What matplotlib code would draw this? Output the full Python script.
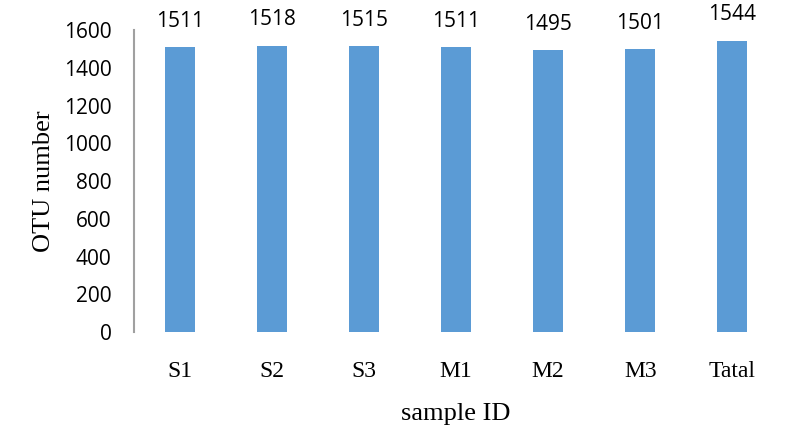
import matplotlib.pyplot as plt
import numpy as np

samples = ["S1", "S2", "S3", "M1", "M2", "M3", "Tatal"]
otu = [1511, 1518, 1515, 1511, 1495, 1501, 1544]
yticks = [0, 200, 400, 600, 800, 1000, 1200, 1400, 1600]

fig = plt.figure(figsize=(7.91, 4.37), dpi=100)
ax = fig.add_axes([0.169, 0.240, 0.815, 0.691])

x = np.arange(len(samples))
bars = ax.bar(x, otu, width=0.33, color="#5B9BD5")

for xi, v in zip(x, otu):
    ax.annotate(str(v), (xi, v), xytext=(0, 11), textcoords="offset points",
                ha="center", va="bottom", fontsize=15, family="Open Sans")

ax.set_xlim(-0.5, len(samples) - 0.5)
ax.set_ylim(0, 1600)
ax.set_yticks(yticks)
ax.set_yticklabels([str(t) for t in yticks], fontsize=15, family="Open Sans")
ax.set_xticks(x)
ax.set_xticklabels(samples, fontsize=17, family="Liberation Serif")
ax.tick_params(axis="both", length=0)
ax.tick_params(axis="x", pad=21)
ax.tick_params(axis="y", pad=16)

for s in ["top", "right", "bottom"]:
    ax.spines[s].set_visible(False)
ax.spines["left"].set_color("#A0A0A0")
ax.spines["left"].set_linewidth(1.5)

ax.set_xlabel("sample ID", fontsize=19, family="Liberation Serif", labelpad=15)
ax.set_ylabel("OTU number", fontsize=19, family="Liberation Serif", labelpad=6)

fig.savefig("out.png", dpi=100)
